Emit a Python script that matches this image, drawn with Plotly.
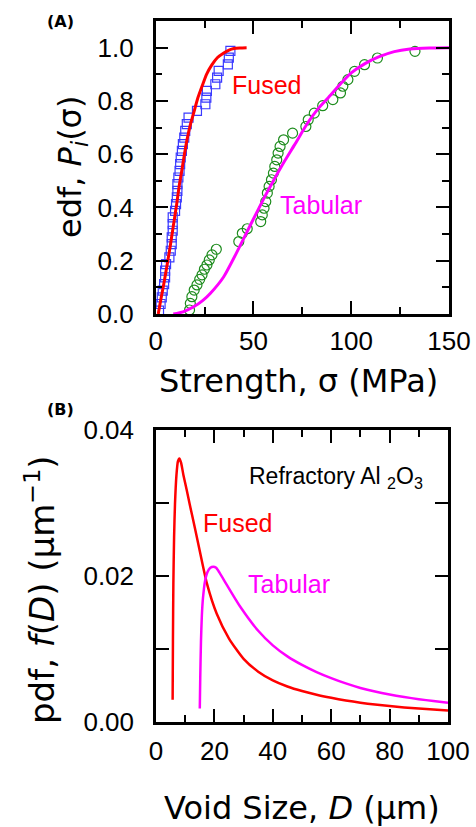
import plotly.graph_objects as go

# ---------------- Panel A data (edf) ----------------
fused_sigma = [1.7, 2.5, 3.1, 3.6, 4.3, 4.8, 4.8, 5.3, 7.0, 7.7, 8.2, 8.2, 8.7, 8.7, 8.7,
               9.9, 10.4, 10.8, 11.1, 11.1, 11.6, 12.2, 12.5, 12.8, 13.4, 13.9, 14.6, 15.1,
               15.9, 16.8, 21.1, 25.4, 25.9, 26.2, 30.5, 31.4, 32.2, 36.9, 37.4, 38.2]
fused_edf = [0.0125, 0.0375, 0.0625, 0.0875, 0.1125, 0.1375, 0.1625, 0.1875, 0.2125, 0.2375,
             0.2625, 0.2875, 0.3125, 0.3375, 0.3625, 0.3875, 0.4125, 0.4375, 0.4625, 0.4875,
             0.5125, 0.5375, 0.5625, 0.5875, 0.6125, 0.6375, 0.6625, 0.6875, 0.7125, 0.7375,
             0.7625, 0.7875, 0.8125, 0.8375, 0.8625, 0.8875, 0.9125, 0.9375, 0.9625, 0.9875]

tabular_sigma = [17.3, 17.7, 18.5, 19.7, 21.1, 22.5, 23.7, 24.9, 26.2, 27.4, 28.8, 31.0, 42.5,
                 44.3, 46.8, 53.7, 54.5, 55.4, 56.3, 57.1, 58.0, 59.2, 60.2, 60.9, 61.9, 62.6,
                 63.6, 65.4, 70.0, 76.8, 78.0, 81.1, 85.4, 90.6, 94.5, 95.7, 98.3, 101.7, 106.8,
                 113.4, 132.6]
tabular_edf = [0.015, 0.040, 0.065, 0.090, 0.109, 0.130, 0.147, 0.168, 0.184, 0.203, 0.222,
               0.243, 0.272, 0.303, 0.320, 0.347, 0.372, 0.397, 0.422, 0.454, 0.479, 0.504,
               0.529, 0.554, 0.579, 0.604, 0.629, 0.654, 0.679, 0.704, 0.729, 0.754, 0.782,
               0.805, 0.830, 0.855, 0.880, 0.911, 0.936, 0.961, 0.986]

fused_fit_sigma = [1.3, 2.5, 3.9, 5.5, 7.4, 9.0, 10.8, 12.0, 13.4, 14.7, 16.0, 17.7, 19.4,
                   21.5, 23.7, 26.0, 28.8, 31.5, 34.8, 37.5, 40.0, 43.0, 46.5]
fused_fit_P = [0.0, 0.05, 0.103, 0.17, 0.253, 0.33, 0.416, 0.48, 0.541, 0.60, 0.654, 0.71,
               0.754, 0.81, 0.855, 0.90, 0.936, 0.962, 0.98, 0.991, 0.997, 0.999, 1.0]

tabular_fit_sigma = [9.0, 14.0, 19.4, 24.0, 28.0, 34.8, 41.7, 48.5, 55.4, 60.5, 66.0, 71.0,
                     77.7, 83.0, 88.0, 94.9, 100.0, 107.0, 114.0, 122.0, 130.0, 140.0, 150.0]
tabular_fit_P = [0.0, 0.008, 0.027, 0.05, 0.078, 0.14, 0.235, 0.335, 0.435, 0.504, 0.575,
                 0.635, 0.717, 0.77, 0.81, 0.867, 0.905, 0.94, 0.965, 0.985, 0.995, 0.999, 1.0]

# ---------------- Panel B data (pdf) ----------------
fused_D = [5.7, 5.8, 5.95, 6.2, 6.5, 7.0, 7.5, 8.0, 8.6, 9.4, 10.5, 11.6, 13.3, 15.1, 17.4,
           20.8, 25.0, 30.0, 35.0, 40.0, 45.0, 50.0, 55.0, 60.0, 65.0, 70.0, 75.0, 80.0,
           85.0, 90.0, 95.0, 100.0]
fused_pdf = [0.0030, 0.0110, 0.0190, 0.0254, 0.0298, 0.0338, 0.0357, 0.0361, 0.0355, 0.0338,
             0.0318, 0.0297, 0.0266, 0.0232, 0.0190, 0.0148, 0.0114, 0.00862, 0.00686,
             0.00567, 0.00483, 0.00420, 0.00369, 0.00327, 0.00291, 0.00261, 0.00235,
             0.00214, 0.00195, 0.00180, 0.00166, 0.00153]

tabular_D = [15.0, 15.15, 15.4, 15.7, 16.1, 16.8, 17.6, 18.6, 19.6, 20.6, 21.8, 24.2, 28.8,
             35.0, 40.0, 45.0, 50.0, 55.0, 60.0, 65.0, 70.0, 75.0, 80.0, 85.0, 90.0, 95.0,
             100.0]
tabular_pdf = [0.0018, 0.0060, 0.0110, 0.0145, 0.0170, 0.0193, 0.0205, 0.0211, 0.02126,
               0.0211, 0.0204, 0.0188, 0.0158, 0.01247, 0.01047, 0.00896, 0.00779, 0.00681,
               0.00598, 0.00525, 0.00463, 0.00413, 0.00372, 0.00338, 0.00309, 0.00283,
               0.00259]

ARIAL = "Liberation Sans, Arial, sans-serif"
WIDE = "DejaVu Sans, Verdana, sans-serif"
W, H = 476, 827

fig = go.Figure()

# Panel A
fig.add_trace(go.Scatter(x=fused_sigma, y=fused_edf, mode="markers", xaxis="x", yaxis="y",
                         marker=dict(symbol="square-open", size=9, color="#3a3aff",
                                     line=dict(width=1.2)), showlegend=False))
fig.add_trace(go.Scatter(x=tabular_sigma, y=tabular_edf, mode="markers", xaxis="x", yaxis="y",
                         marker=dict(symbol="circle-open", size=10, color="#1e8c1e",
                                     line=dict(width=1.2)), showlegend=False))
fig.add_trace(go.Scatter(x=fused_fit_sigma, y=fused_fit_P, mode="lines", xaxis="x", yaxis="y",
                         line=dict(color="#ff0000", width=3, shape="spline", smoothing=0.6),
                         showlegend=False))
fig.add_trace(go.Scatter(x=tabular_fit_sigma, y=tabular_fit_P, mode="lines", xaxis="x", yaxis="y",
                         line=dict(color="#ff00ff", width=3, shape="spline", smoothing=0.6),
                         showlegend=False))

# Panel B
fig.add_trace(go.Scatter(x=fused_D, y=fused_pdf, mode="lines", xaxis="x2", yaxis="y2",
                         line=dict(color="#ff0000", width=2.5, shape="spline", smoothing=0.6),
                         showlegend=False))
fig.add_trace(go.Scatter(x=tabular_D, y=tabular_pdf, mode="lines", xaxis="x2", yaxis="y2",
                         line=dict(color="#ff00ff", width=2.5, shape="spline", smoothing=0.6),
                         showlegend=False))

axis_common = dict(showline=True, linewidth=2.5, linecolor="black", mirror="ticks",
                   ticks="inside", ticklen=13, tickwidth=2, tickcolor="black",
                   showgrid=False, zeroline=False, automargin=False,
                   tickfont=dict(family=ARIAL, size=26, color="black"))

fig.update_layout(
    template="none",
    width=W, height=H,
    margin=dict(l=0, r=0, t=0, b=0, pad=0, autoexpand=False),
    paper_bgcolor="white", plot_bgcolor="white",
    font=dict(family=ARIAL, color="black"),
    showlegend=False,
    xaxis=dict(domain=[155.7 / W, 449 / W], anchor="y", range=[0, 150],
               tickvals=[0, 50, 100, 150], ticklabelstandoff=2,
               minor=dict(tickvals=[25, 75, 125], ticks="inside", ticklen=7, tickwidth=2,
                          tickcolor="black", showgrid=False),
               **axis_common),
    yaxis=dict(domain=[1 - 314 / H, 1 - 21 / H], anchor="x", range=[0, 1.1],
               tickvals=[0, 0.2, 0.4, 0.6, 0.8, 1.0],
               ticktext=["0.0", "0.2", "0.4", "0.6", "0.8", "1.0"], ticklabelstandoff=14,
               minor=dict(tickvals=[0.1, 0.3, 0.5, 0.7, 0.9], ticks="inside", ticklen=7,
                          tickwidth=2, tickcolor="black", showgrid=False),
               **axis_common),
    xaxis2=dict(domain=[156 / W, 448 / W], anchor="y2", range=[0, 100],
                tickvals=[0, 20, 40, 60, 80, 100], ticklabelstandoff=4,
                minor=dict(tickvals=[10, 30, 50, 70, 90], ticks="inside", ticklen=7,
                           tickwidth=2, tickcolor="black", showgrid=False),
                **axis_common),
    yaxis2=dict(domain=[1 - 721.7 / H, 1 - 430 / H], anchor="x2", range=[0, 0.04],
                tickvals=[0, 0.01, 0.02, 0.03, 0.04],
                ticktext=["0.00", "", "0.02", "", "0.04"], ticklabelstandoff=14,
                **axis_common),
)

def px_ann(text, X, Y, size, family=WIDE, color="black", angle=0):
    fig.add_annotation(text=text, x=X / W, y=1 - Y / H, xref="paper", yref="paper",
                       xanchor="center", yanchor="middle", showarrow=False,
                       textangle=angle, font=dict(family=family, size=size, color=color))

# axis titles
px_ann("Strength, σ (MPa)", 298, 381, 32)
px_ann("edf, <i>P<sub>i</sub></i>(σ)", 72, 167, 32, angle=-90)
px_ann("Void Size, <i>D</i> (μm)", 302, 808, 32)
px_ann("pdf, <i>f</i>(<i>D</i>) (μm<sup>−1</sup>)", 40, 590, 34, angle=-90)

# panel labels
px_ann("<b>(A)</b>", 61, 21, 16)
px_ann("<b>(B)</b>", 61, 409, 16)

# in-plot labels
def data_ann(text, x, y, xr, yr, size, color):
    fig.add_annotation(text=text, x=x, y=y, xref=xr, yref=yr, xanchor="center",
                       yanchor="middle", showarrow=False,
                       font=dict(family=ARIAL, size=size, color=color))

data_ann("Fused", 56.8, 0.861, "x", "y", 25, "#ff0000")
data_ann("Tabular", 84.6, 0.41, "x", "y", 25, "#ff00ff")
data_ann("Refractory Al <sub>2</sub>O<sub>3</sub>", 61.5, 0.0335, "x2", "y2", 23, "black")
data_ann("Fused", 27.9, 0.0273, "x2", "y2", 25, "#ff0000")
data_ann("Tabular", 45.7, 0.0189, "x2", "y2", 25, "#ff00ff")

fig.write_html("out.html")
